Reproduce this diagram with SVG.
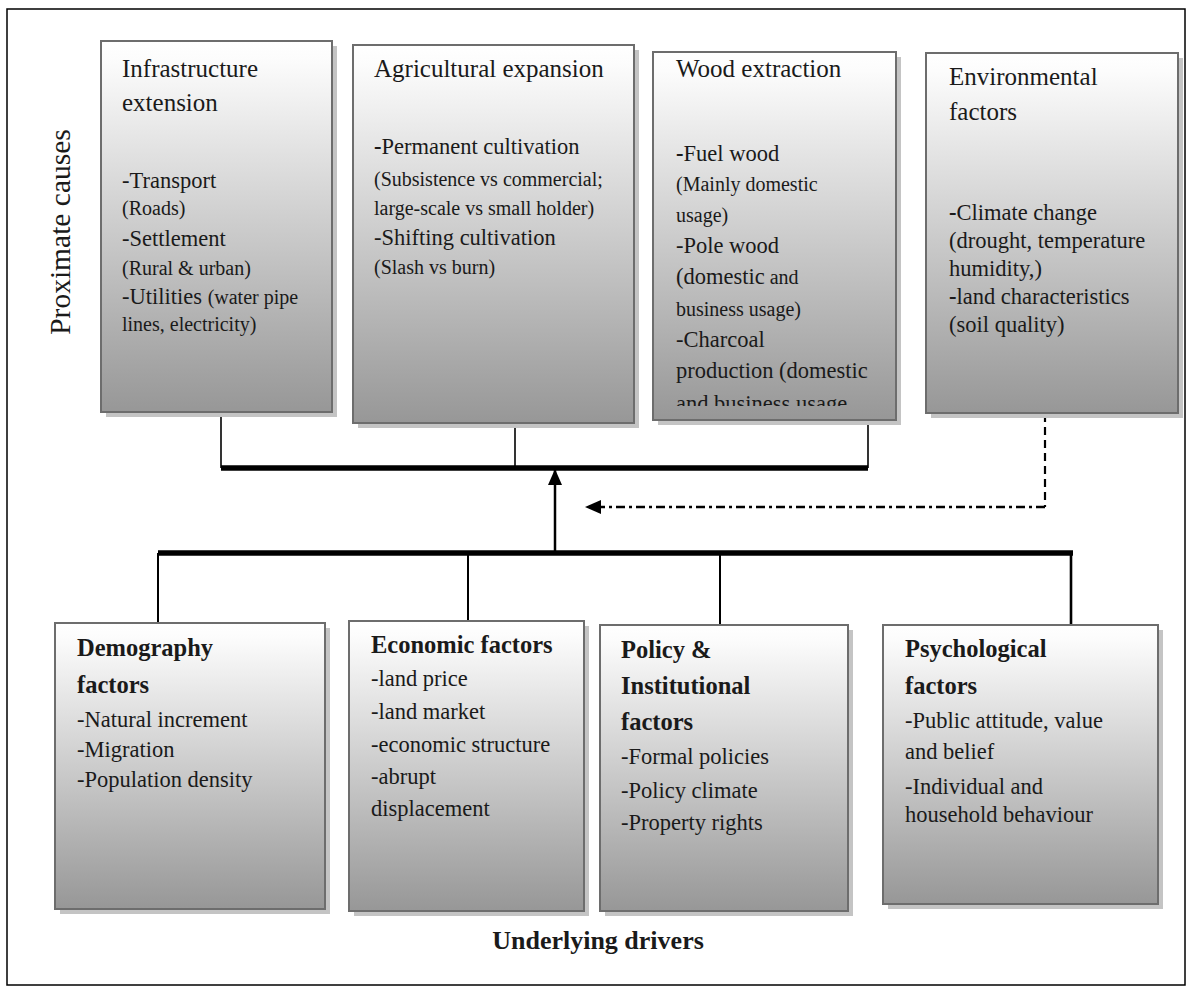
<svg xmlns="http://www.w3.org/2000/svg" width="1191" height="1000" viewBox="0 0 1191 1000">
<defs>
  <linearGradient id="g" x1="0" y1="0" x2="0" y2="1">
    <stop offset="0" stop-color="#ffffff"/>
    <stop offset="0.05" stop-color="#fcfcfc"/>
    <stop offset="1" stop-color="#979797"/>
  </linearGradient>
  <marker id="ah" markerUnits="userSpaceOnUse" markerWidth="16" markerHeight="14" viewBox="0 0 16 14" refX="16" refY="7" orient="auto">
    <path d="M0,0 L16,7 L0,14 z" fill="#000"/>
  </marker>
  <clipPath id="c3"><rect x="653" y="52" width="243" height="354"/></clipPath>
  <style>
    .shadow { fill: #c4c4c4; }
    .box { fill: url(#g); stroke: #6d6d6d; stroke-width: 2; }
    text { font-family: "Liberation Serif", "DejaVu Serif", serif; fill: #1a1a1a; }
    .ti { font-size: 25px; }
    .b { font-size: 22.5px; }
    .s { font-size: 20px; }
    .h { font-size: 24.5px; font-weight: bold; }
    .bd { font-weight: bold; }
    .thin { stroke: #000; stroke-width: 1.6; fill: none; }
    .drop { stroke: #000; stroke-width: 2; fill: none; }
    .bus { stroke: #000; stroke-width: 5.5; fill: none; }
  </style>
</defs>

<rect x="0" y="0" width="1191" height="1000" fill="#ffffff"/>
<rect x="7" y="9" width="1178" height="976" fill="none" stroke="#000" stroke-width="1.5"/>

<text x="70" y="232" transform="rotate(-90 70 232)" text-anchor="middle" style="font-size:29.5px">Proximate causes</text>

<g id="connectors">
  <line class="thin" x1="221" y1="412" x2="221" y2="468"/>
  <line class="thin" x1="515" y1="423" x2="515" y2="468"/>
  <line class="thin" x1="868" y1="420" x2="868" y2="468"/>
  <line class="bus" x1="221" y1="468" x2="868" y2="468"/>
  <line x1="555" y1="553" x2="555" y2="469" stroke="#000" stroke-width="2.5" marker-end="url(#ah)"/>
  <line x1="1045" y1="414" x2="1045" y2="507" stroke="#000" stroke-width="2.2" stroke-dasharray="8 5"/>
  <line x1="1045" y1="507" x2="585" y2="507" stroke="#000" stroke-width="2.5" stroke-dasharray="9 4 3 4" marker-end="url(#ah)"/>
  <line class="bus" x1="158" y1="553" x2="1073" y2="553"/>
  <line class="drop" x1="158" y1="553" x2="158" y2="623"/>
  <line class="drop" x1="468" y1="553" x2="468" y2="621"/>
  <line class="drop" x1="720" y1="553" x2="720" y2="625"/>
  <line class="drop" x1="1071" y1="553" x2="1071" y2="625" style="stroke-width:2.6"/>
</g>

<g id="n-infrastructure">
  <rect class="shadow" x="106" y="46" width="231" height="371"/>
  <rect class="box" x="101" y="41" width="231" height="371"/>
  <text class="ti" x="122" y="77">Infrastructure</text>
  <text class="ti" x="122" y="111">extension</text>
  <text class="b" x="122" y="188">-Transport</text>
  <text class="s" x="122" y="215">(Roads)</text>
  <text class="b" x="122" y="246">-Settlement</text>
  <text class="s" x="122" y="275">(Rural &amp; urban)</text>
  <text class="b" x="122" y="304">-Utilities <tspan class="s">(water pipe</tspan></text>
  <text class="s" x="122" y="331">lines, electricity)</text>
</g>

<g id="n-agricultural">
  <rect class="shadow" x="358" y="50" width="281" height="378"/>
  <rect class="box" x="353" y="45" width="281" height="378"/>
  <text class="ti" x="374" y="77">Agricultural expansion</text>
  <text class="b" x="374" y="154"><tspan class="bd">-</tspan>Permanent cultivation</text>
  <text class="s" x="374" y="186">(Subsistence vs commercial;</text>
  <text class="s" x="374" y="215">large-scale vs small holder)</text>
  <text class="b" x="374" y="245">-Shifting cultivation</text>
  <text class="s" x="374" y="274">(Slash vs burn)</text>
</g>

<g id="n-wood">
  <rect class="shadow" x="658" y="57" width="243" height="368"/>
  <rect class="box" x="653" y="52" width="243" height="368"/>
  <g clip-path="url(#c3)">
    <text class="ti" x="676" y="77">Wood extraction</text>
    <text class="b" x="676" y="161"><tspan class="bd">-</tspan>Fuel wood</text>
    <text class="s" x="676" y="191">(Mainly domestic</text>
    <text class="s" x="676" y="222">usage)</text>
    <text class="b" x="676" y="253">-Pole wood</text>
    <text class="b" x="676" y="284">(domestic<tspan class="s"> and</tspan></text>
    <text class="s" x="676" y="316">business usage)</text>
    <text class="b" x="676" y="347">-Charcoal</text>
    <text class="b" x="676" y="378">production (domestic</text>
    <text class="b" x="676" y="411">and business usage</text>
  </g>
</g>

<g id="n-environmental">
  <rect class="shadow" x="931" y="58" width="252" height="360"/>
  <rect class="box" x="926" y="53" width="252" height="360"/>
  <text class="ti" x="949" y="85">Environmental</text>
  <text class="ti" x="949" y="120">factors</text>
  <text class="b" x="949" y="220"><tspan class="bd">-</tspan>Climate change</text>
  <text class="b" x="949" y="248">(drought, temperature</text>
  <text class="b" x="949" y="276">humidity,)</text>
  <text class="b" x="949" y="304"><tspan class="bd">-</tspan>land characteristics</text>
  <text class="b" x="949" y="332">(soil quality)</text>
</g>

<g id="n-demography">
  <rect class="shadow" x="60" y="628" width="270" height="286"/>
  <rect class="box" x="55" y="623" width="270" height="286"/>
  <text class="h" x="77" y="656">Demography</text>
  <text class="h" x="77" y="693">factors</text>
  <text class="b" x="77" y="727">-Natural increment</text>
  <text class="b" x="77" y="757">-Migration</text>
  <text class="b" x="77" y="787">-Population density</text>
</g>

<g id="n-economic">
  <rect class="shadow" x="354" y="626" width="235" height="290"/>
  <rect class="box" x="349" y="621" width="235" height="290"/>
  <text class="h" x="371" y="653">Economic factors</text>
  <text class="b" x="371" y="686">-land price</text>
  <text class="b" x="371" y="719">-land market</text>
  <text class="b" x="371" y="752">-economic structure</text>
  <text class="b" x="371" y="784">-abrupt</text>
  <text class="b" x="371" y="816">displacement</text>
</g>

<g id="n-policy">
  <rect class="shadow" x="605" y="630" width="248" height="286"/>
  <rect class="box" x="600" y="625" width="248" height="286"/>
  <text class="h" x="621" y="658">Policy &amp;</text>
  <text class="h" x="621" y="694">Institutional</text>
  <text class="h" x="621" y="730">factors</text>
  <text class="b" x="621" y="764">-Formal policies</text>
  <text class="b" x="621" y="798">-Policy climate</text>
  <text class="b" x="621" y="830">-Property rights</text>
</g>

<g id="n-psychological">
  <rect class="shadow" x="888" y="630" width="275" height="279"/>
  <rect class="box" x="883" y="625" width="275" height="279"/>
  <text class="h" x="905" y="657">Psychological</text>
  <text class="h" x="905" y="694">factors</text>
  <text class="b" x="905" y="728">-Public attitude, value</text>
  <text class="b" x="905" y="759">and belief</text>
  <text class="b" x="905" y="794">-Individual and</text>
  <text class="b" x="905" y="822">household behaviour</text>
</g>

<text x="598" y="949" text-anchor="middle" style="font-size:26px;font-weight:bold">Underlying drivers</text>
</svg>
